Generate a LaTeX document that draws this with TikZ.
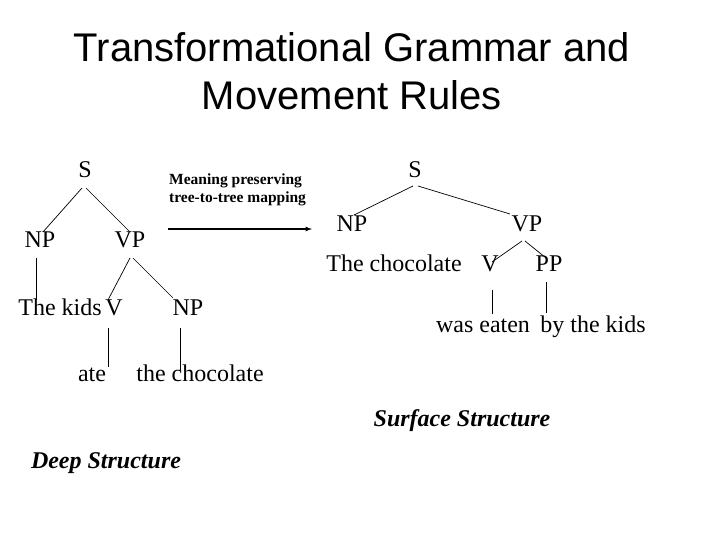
\documentclass[tikz,border=0pt]{standalone}
\usepackage{fontspec}
\setmainfont{Liberation Serif}
\newfontfamily\titlefont{Liberation Sans}
\begin{document}
\begin{tikzpicture}[x=1pt,y=-1pt,
  lab/.style={font=\fontsize{24}{26}\selectfont, inner sep=0pt, text height=1.5ex, text depth=0.25ex},
  edge/.style={draw, line width=0.7pt},
  captxt/.style={font=\fontsize{24}{26}\selectfont\bfseries\itshape, inner sep=0pt},
  ttl/.style={font=\titlefont\fontsize{40}{44}\selectfont, inner sep=0pt}]
\useasboundingbox[fill=white] (0,0) rectangle (720,540);
\node[ttl] (t1) at (352,47) {Transformational Grammar and};
\node[ttl] (t2) at (352,95) {Movement Rules};
% left tree
\node[lab] (S1) at (85,175) {S};
\node[lab] (NP1) at (40,245) {NP};
\node[lab] (VP1) at (130,245) {VP};
\node[lab] (kids) at (60,313) {The kids};
\node[lab] (V1) at (114,313) {V};
\node[lab] (NP2) at (188,313) {NP};
\node[lab] (ate) at (92,379) {ate};
\node[lab] (choc) at (200,379) {the chocolate};
\coordinate (a1) at (82,188); \coordinate (a2) at (43,232);
\coordinate (b1) at (86,188); \coordinate (b2) at (130,232);
\coordinate (c1) at (36,258); \coordinate (c2) at (36,300);
\coordinate (d1) at (130,258); \coordinate (d2) at (108,300);
\coordinate (e1) at (133,258); \coordinate (e2) at (173,298);
\coordinate (f1) at (108,328); \coordinate (f2) at (108,367);
\coordinate (g1) at (180,328); \coordinate (g2) at (180,371);
\draw[edge] (a1) -- (a2); \draw[edge] (b1) -- (b2);
\draw[edge] (c1) -- (c2); \draw[edge] (d1) -- (d2);
\draw[edge] (e1) -- (e2); \draw[edge] (f1) -- (f2);
\draw[edge] (g1) -- (g2);
% arrow
\coordinate (ar1) at (168,229); \coordinate (ar2) at (312,229);
\draw[line width=1.2pt,-latex] (ar1) -- (ar2);
\node[font=\fontsize{15.5}{18}\selectfont\bfseries, align=left, anchor=west, inner sep=0pt] (mp) at (169,190) {Meaning preserving\\tree-to-tree mapping};
% right tree
\node[lab] (S2) at (415,175) {S};
\node[lab] (NP3) at (352,229) {NP};
\node[lab] (VP2) at (527,229) {VP};
\node[lab] (thec) at (394,269) {The chocolate};
\node[lab] (V2) at (490,269) {V};
\node[lab] (PP) at (549,269) {PP};
\node[lab] (was) at (483,330) {was eaten};
\node[lab] (by) at (593,330) {by the kids};
\coordinate (h1) at (413,186); \coordinate (h2) at (354,215);
\coordinate (i1) at (418,186); \coordinate (i2) at (510,214);
\coordinate (j1) at (522,241); \coordinate (j2) at (492,262);
\coordinate (k1) at (525,241); \coordinate (k2) at (546,258);
\coordinate (l1) at (492,290); \coordinate (l2) at (492,314);
\coordinate (m1) at (546,282); \coordinate (m2) at (546,313);
\draw[edge] (h1) -- (h2); \draw[edge] (i1) -- (i2);
\draw[edge] (j1) -- (j2); \draw[edge] (k1) -- (k2);
\draw[edge] (l1) -- (l2); \draw[edge] (m1) -- (m2);
\node[captxt] (ss) at (462,421) {Surface Structure};
\node[captxt] (ds) at (106,463) {Deep Structure};
\end{tikzpicture}
\end{document}
